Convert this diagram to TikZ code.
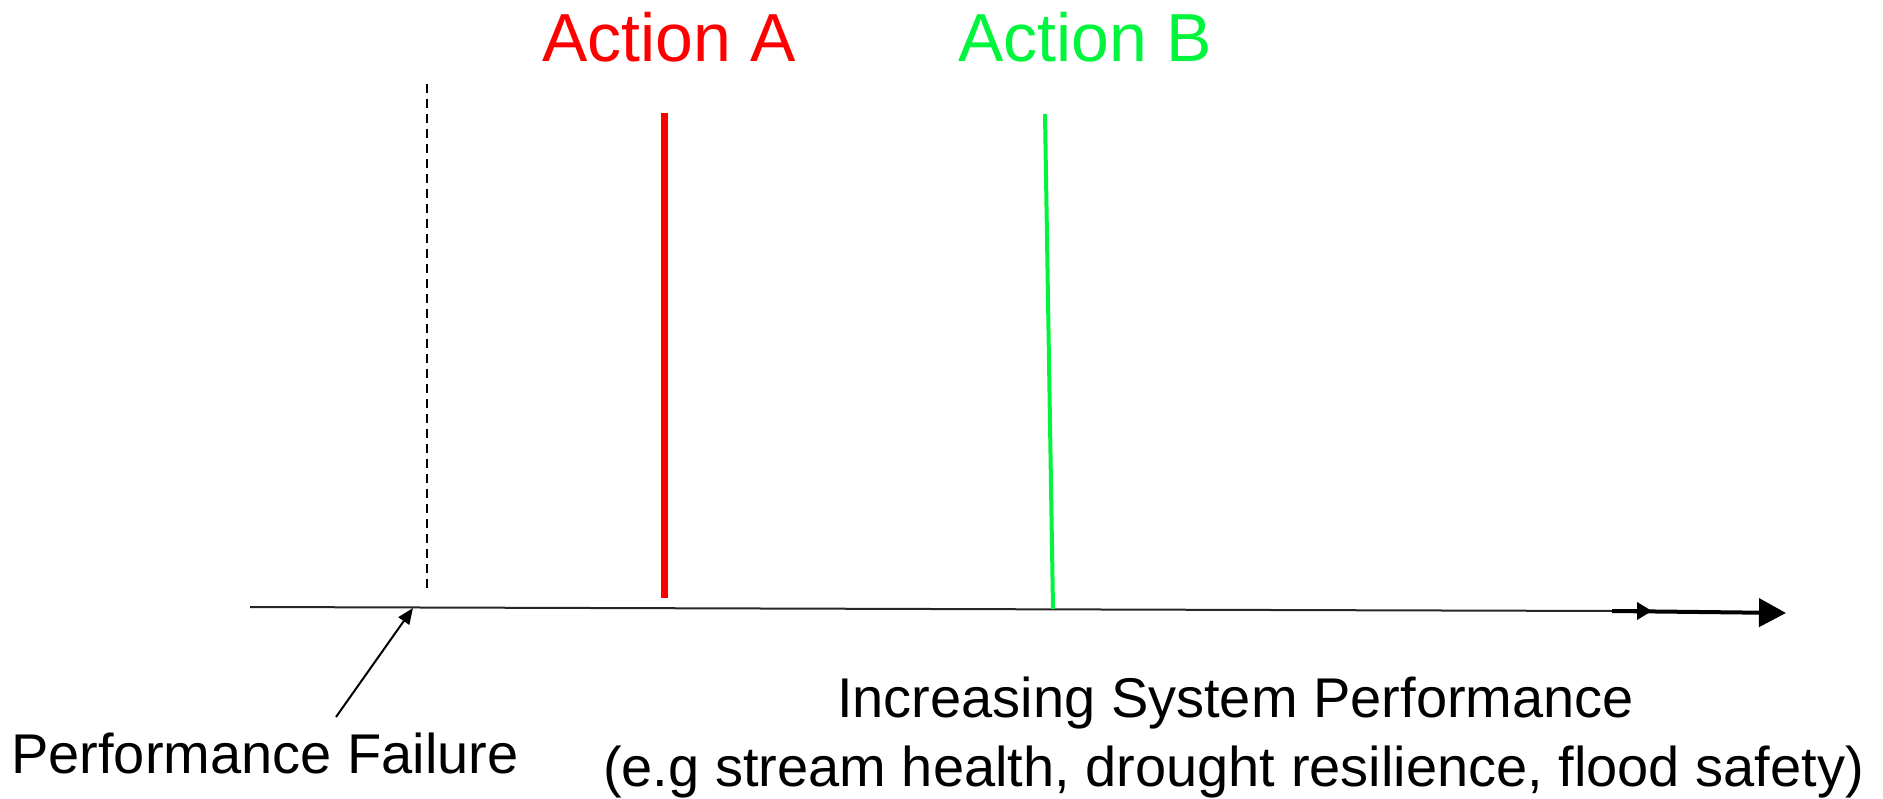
\documentclass[tikz,border=0pt]{standalone}
\usepackage{fontspec}
\setmainfont{Liberation Sans}
\usetikzlibrary{arrows.meta}
\definecolor{actA}{RGB}{255,0,0}
\definecolor{actB}{RGB}{0,245,60}
\tikzset{
  lbl/.style={inner sep=0pt, anchor=base west, font=\fontsize{56}{64}\selectfont},
  biglbl/.style={inner sep=0pt, anchor=base west, font=\fontsize{68}{78}\selectfont},
  axisline/.style={line width=2pt, black!85},
  thickaxis/.style={line width=4pt, black, -{Triangle[length=27pt,width=28pt]}},
  smallarrow/.style={line width=4pt, black, -{Triangle[length=15pt,width=17pt]}},
  pointer/.style={line width=2pt, black, -{Triangle[length=16pt,width=13pt]}},
  failline/.style={line width=1.5pt, black, dash pattern=on 9pt off 6pt},
}
\begin{document}
\begin{tikzpicture}[x=1pt,y=-1pt]
\useasboundingbox (0,0) rectangle (1883,799);
% coordinates
\coordinate (axS) at (250,607);
\coordinate (axM) at (1612,611);
\coordinate (axK) at (1652,611);
\coordinate (axE) at (1786,613);
\coordinate (fTop) at (427,84);
\coordinate (fBot) at (427,590);
\coordinate (aTop) at (664,113);
\coordinate (aBot) at (664,598);
\coordinate (bTop) at (1045,114);
\coordinate (bBot) at (1053,609);
\coordinate (pTip) at (413,608);
\coordinate (pTail) at (336,717);
% axis
\draw[axisline] (axS) -- (axM);
\draw[thickaxis] (axM) -- (axE);
\draw[smallarrow] (axM) -- (axK);
% lines
\draw[failline] (fTop) -- (fBot);
\draw[actA, line width=7pt] (aTop) -- (aBot);
\draw[actB, line width=4pt] (bTop) -- (bBot);
\draw[pointer] (pTail) -- (pTip);
% labels
\node[biglbl, text=actA] (labA) at (542,62) {Action A};
\node[biglbl, text=actB] (labB) at (958,62) {Action B};
\node[lbl] (pf) at (11,773) {Performance Failure};
\node[lbl] (isp) at (837,717) {Increasing System Performance};
\node[lbl] (eg) at (603,786) {(e.g stream health, drought resilience, flood safety)};
\end{tikzpicture}
\end{document}
